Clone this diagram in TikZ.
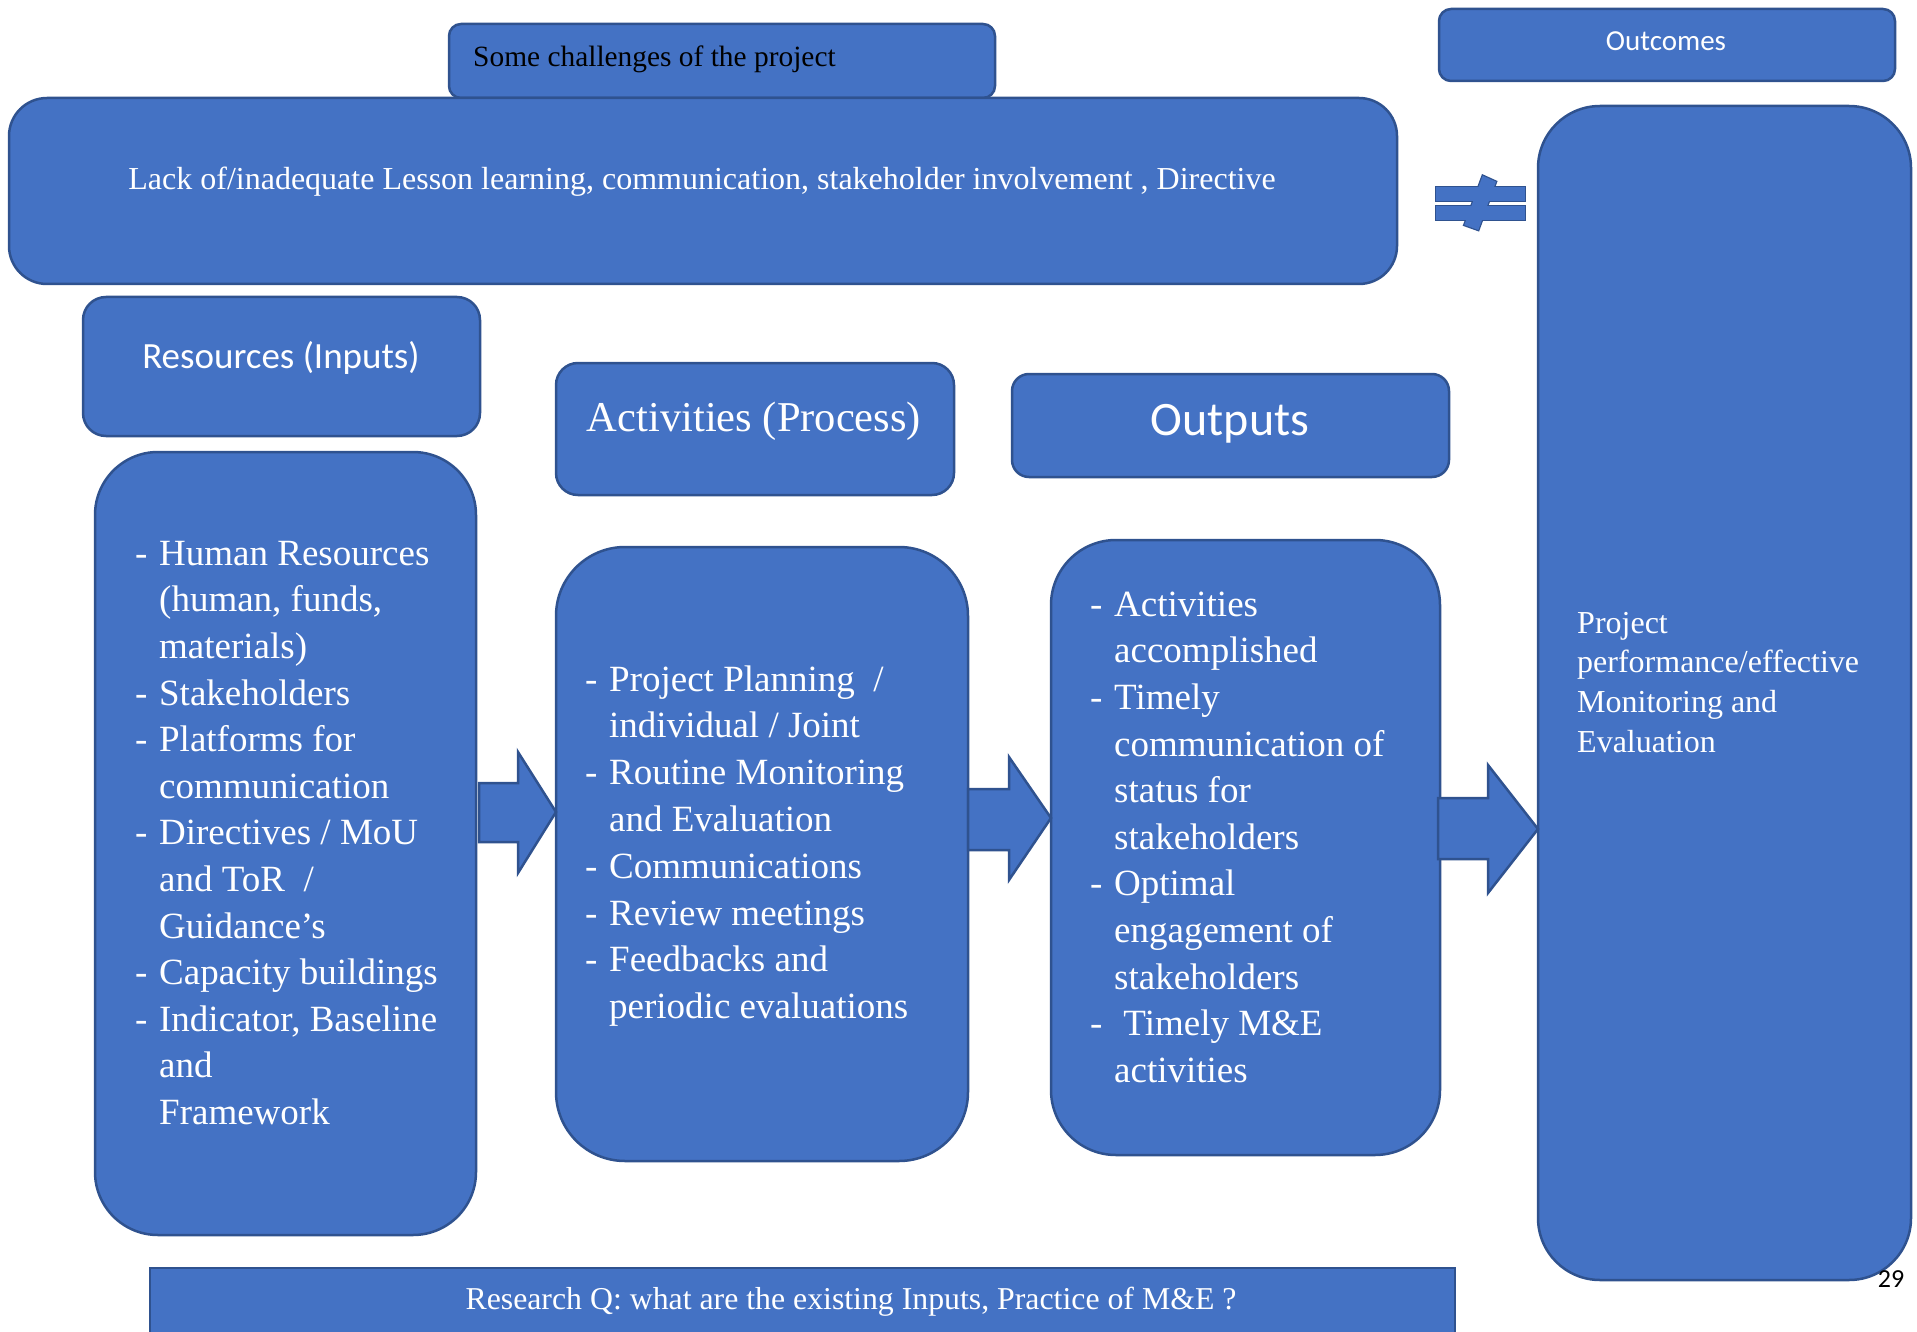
\documentclass[tikz,border=0pt]{standalone}
\usepackage{fontspec}
\setmainfont{Liberation Serif}
\newfontfamily\calibri{Carlito}
\definecolor{boxfill}{HTML}{4472C4}
\definecolor{boxline}{HTML}{2F528F}
\newcommand\myitem{\makebox[24pt][l]{-}}
\newcommand\mycont{\hspace*{24pt}}
\begin{document}
\begin{tikzpicture}[x=1pt,y=-1pt,
  blk/.style={draw=boxline, fill=boxfill, line width=2.5pt, rectangle, inner sep=0pt},
  arrowblk/.style={draw=boxline, fill=boxfill, line width=2.5pt, line join=miter},
  wtxt/.style={text=white, inner sep=0pt},
  btxt/.style={text=black, inner sep=0pt},
  listfont/.style={font=\fontsize{37}{46.6}\selectfont}]
\useasboundingbox (0,0) rectangle (1917,1332);

% header of challenges (behind big box)
\node[blk, rounded corners=12pt, minimum width=546pt, minimum height=74pt] (chalhdr) at (722,61) {};
\node[blk, rounded corners=38pt, minimum width=1388pt, minimum height=186pt] (chal) at (703,191) {};
\node[btxt, anchor=base west, font=\fontsize{29.4}{35}\selectfont] (chalhdrtxt) at (473,67) {Some challenges of the project};
\node[wtxt, anchor=base, font=\fontsize{32}{39}\selectfont] (chaltxt) at (702,190) {Lack of/inadequate Lesson learning, communication, stakeholder involvement , Directive};

% outcomes
\node[blk, rounded corners=12pt, minimum width=456pt, minimum height=72pt] (outhdr) at (1667,45) {};
\node[wtxt, anchor=base, font=\calibri\fontsize{29}{35}\selectfont] (outhdrtxt) at (1666,51) {Outcomes};
\node[blk, rounded corners=62pt, minimum width=373pt, minimum height=1174pt] (outc) at (1724.5,693) {};
\node[wtxt, anchor=north west, font=\fontsize{32}{39.8}\selectfont] (outctxt) at (1577,605.1) {\begin{tabular}{@{}l@{}}Project\\ performance/effective\\ Monitoring and\\ Evaluation\end{tabular}};

% not-equal sign
\begin{scope}
\draw[boxline, line width=2.5pt] (1436,187) rectangle (1525,201);
\draw[boxline, line width=2.5pt] (1436,206) rectangle (1525,220);
\draw[boxline, line width=2.5pt] (1482.7,175.7) -- (1496,181.7) -- (1478.3,230) -- (1464.3,225) -- cycle;
\fill[boxfill] (1436,187) rectangle (1525,201);
\fill[boxfill] (1436,206) rectangle (1525,220);
\fill[boxfill] (1482.7,175.7) -- (1496,181.7) -- (1478.3,230) -- (1464.3,225) -- cycle;
\end{scope}

% column headers
\node[blk, rounded corners=23pt, minimum width=397pt, minimum height=139pt] (reshdr) at (281.5,366.5) {};
\node[wtxt, anchor=base, font=\calibri\fontsize{37}{44}\selectfont] (reshdrtxt) at (281,368) {Resources (Inputs)};
\node[blk, rounded corners=22pt, minimum width=398pt, minimum height=132pt] (acthdr) at (755,429) {};
\node[wtxt, anchor=base, font=\fontsize{42.5}{50}\selectfont] (acthdrtxt) at (754,431) {Activities (Process)};
\node[blk, rounded corners=17pt, minimum width=437pt, minimum height=103pt] (outphdr) at (1230.5,425.5) {};
\node[wtxt, anchor=base, font=\calibri\fontsize{48}{56}\selectfont] (outphdrtxt) at (1230,435) {Outputs};

% list boxes
\node[blk, rounded corners=63pt, minimum width=381pt, minimum height=783pt] (reslist) at (285.5,843.5) {};
\node[wtxt, anchor=north west, listfont] (reslisttxt) at (135,532.4) {\begin{tabular}{@{}l@{}}
\myitem Human Resources\\ \mycont (human, funds,\\ \mycont materials)\\
\myitem Stakeholders\\
\myitem Platforms for\\ \mycont communication\\
\myitem Directives / MoU\\ \mycont and ToR\ \ /\\ \mycont Guidance’s\\
\myitem Capacity buildings\\
\myitem Indicator, Baseline\\ \mycont and\\ \mycont Framework\end{tabular}};

\node[blk, rounded corners=69pt, minimum width=412pt, minimum height=614pt] (actlist) at (762,854) {};
\node[wtxt, anchor=north west, font=\fontsize{37}{46.8}\selectfont] (actlisttxt) at (585,658.2) {\begin{tabular}{@{}l@{}}
\myitem Project Planning\ \ /\\ \mycont individual / Joint\\
\myitem Routine Monitoring\\ \mycont and Evaluation\\
\myitem Communications\\
\myitem Review meetings\\
\myitem Feedbacks and\\ \mycont periodic evaluations\end{tabular}};

\node[blk, rounded corners=65pt, minimum width=389pt, minimum height=615pt] (outlist) at (1245.5,847.5) {};
\node[wtxt, anchor=north west, listfont] (outlisttxt) at (1090,583.4) {\begin{tabular}{@{}l@{}}
\myitem Activities\\ \mycont accomplished\\
\myitem Timely\\ \mycont communication of\\ \mycont status for\\ \mycont stakeholders\\
\myitem Optimal\\ \mycont engagement of\\ \mycont stakeholders\\
\myitem\ Timely M\&E\\ \mycont activities\end{tabular}};

% block arrows
\draw[arrowblk] (479,783) -- (518,783) -- (518,752) -- (556,812) -- (518,873) -- (518,842) -- (479,842) -- cycle;
\draw[arrowblk] (968,789) -- (1009,789) -- (1009,757) -- (1051,818) -- (1009,880) -- (1009,850) -- (968,850) -- cycle;
\draw[arrowblk] (1438,798) -- (1488,798) -- (1488,765) -- (1538,829) -- (1488,893) -- (1488,859) -- (1438,859) -- cycle;

% research question
\node[blk, minimum width=1305pt, minimum height=90pt] (rq) at (802.5,1313) {};
\node[wtxt, anchor=base, font=\fontsize{31.8}{38}\selectfont] (rqtxt) at (851,1309) {Research Q: what are the existing Inputs, Practice of M\&E ?};

% page number
\node[btxt, anchor=base, font=\calibri\fontsize{26}{30}\selectfont] (pagenum) at (1891,1287) {29};
\end{tikzpicture}
\end{document}
